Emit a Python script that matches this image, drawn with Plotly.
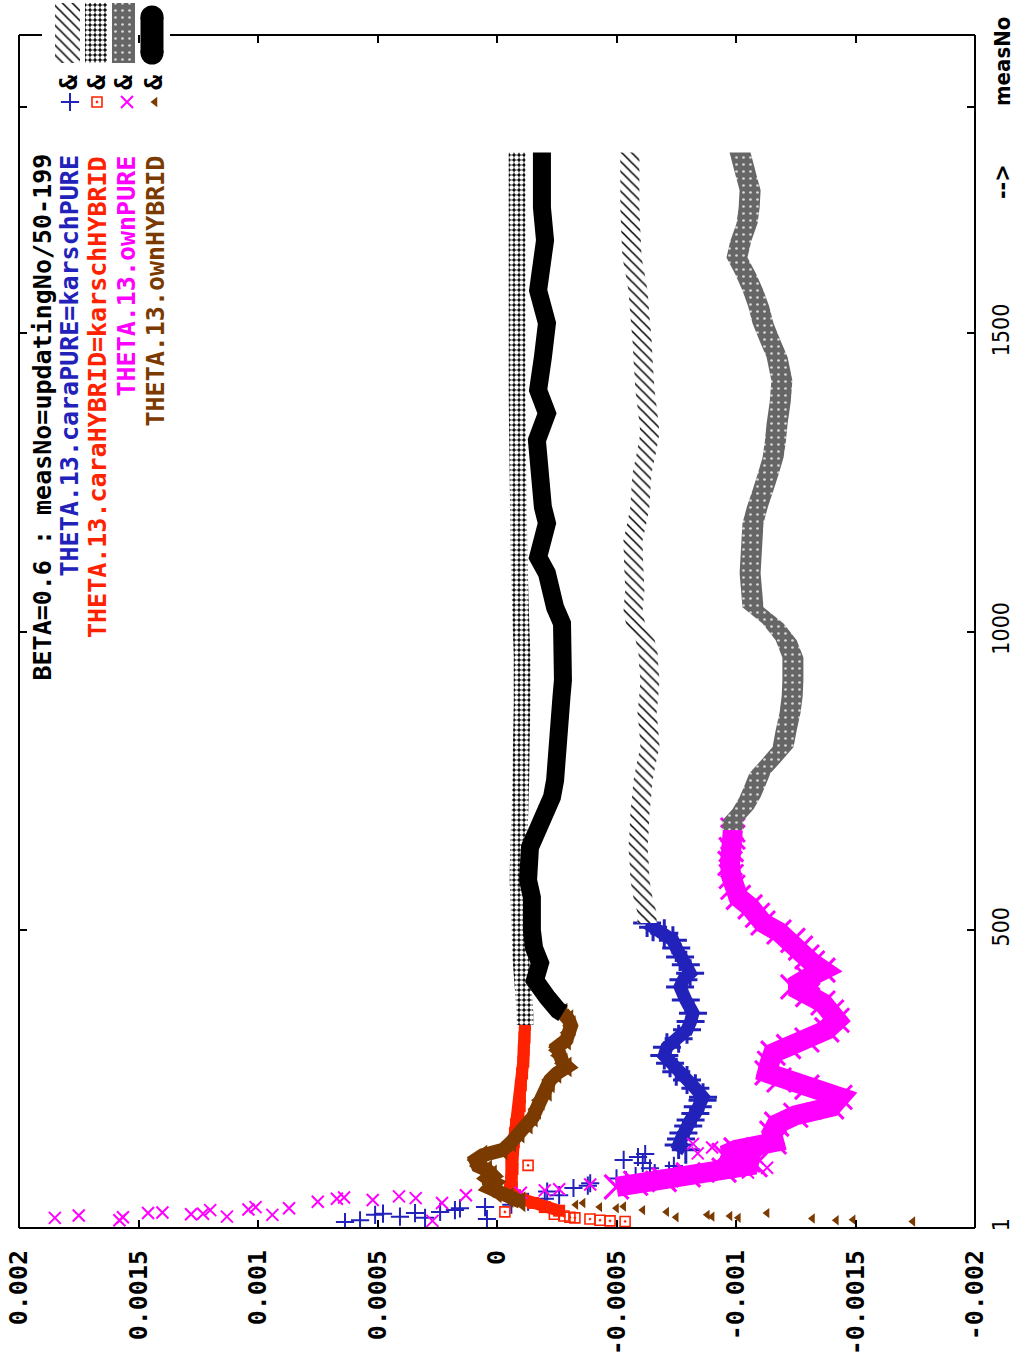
import plotly.graph_objects as go

W, H = 1019, 1358
UNIT = 1e-4  # every value array below is given in units of 1e-4

# ---------------- THETA.13.caraPURE (blue +) ----------------
cara_pure_scatter_m = [11, 14, 16, 18, 20, 23, 25, 26, 28, 31, 34, 36, 40, 45, 50, 56, 62, 68, 72, 76,
                       81, 84, 88, 93, 97, 101, 105, 110, 115, 120, 125]
cara_pure_scatter_v = [6.36, 5.73, 0.42, 3.01, 4.06, 5.10, 4.77, 3.43, 2.38, 1.76, 1.55, 0.50, -0.6, -1.3, -2.0,
                       -2.6, -2.1, -3.2, -3.8, -3.9, -5.4, -5.0, -5.8, -6.6, -7.2, -6.4, -7.4, -6.1, -5.3, -5.9, -6.2]
cara_pure_m = [132, 140, 150, 160, 172, 182, 193, 204, 215, 220, 235, 249, 263, 277, 290, 304, 318, 333, 347, 361,
               383, 405, 417, 428, 442, 455, 470, 483, 495, 505, 512]
cara_pure_v = [-7.9, -7.6, -7.7, -7.8, -8.0, -8.1, -8.3, -8.4, -8.6, -8.62, -8.3, -7.95, -7.5, -7.24, -7.0,
               -7.11, -7.6, -7.95, -8.1, -8.20, -7.9, -7.66, -7.8, -8.08, -7.9, -7.66, -7.5, -7.36, -7.0, -6.53, -6.28]
# continuation ("&", hatched)
cara_pure_late_m = [512, 529, 556, 584, 612, 639, 668, 696, 723, 751, 780, 807, 835, 864, 892, 919, 941, 964, 986,
                    998, 1014, 1031, 1050, 1070, 1110, 1153, 1182, 1209, 1237, 1266, 1300, 1333, 1370, 1405, 1450,
                    1488, 1530, 1572, 1600, 1627, 1670, 1711, 1750, 1803]
cara_pure_late_v = [-6.28, -6.28, -6.10, -5.98, -5.95, -5.90, -5.95, -5.98, -6.05, -6.11, -6.25, -6.40, -6.35, -6.28,
                    -6.35, -6.40, -6.35, -6.32, -6.20, -5.98, -5.80, -5.69, -5.72, -5.77, -5.72, -5.69, -5.85, -5.98,
                    -6.02, -6.07, -6.25, -6.40, -6.30, -6.19, -6.12, -6.07, -5.98, -5.90, -5.78, -5.65, -5.60, -5.56,
                    -5.56, -5.56]

# ---------------- THETA.13.caraHYBRID (red boxed dot) ----------------
cara_hybrid_scatter_m = [12, 13, 14, 16, 18, 19, 21, 24, 28, 70, 106]
cara_hybrid_scatter_v = [-5.36, -4.73, -4.31, -3.89, -3.26, -3.05, -2.8, -2.4, -0.33, -0.63, -1.3]
cara_hybrid_m = [30, 36, 43, 50, 56, 62, 70, 80, 90, 100, 110, 120, 132, 145, 160, 175, 190, 205, 220, 240,
                 260, 280, 300, 320, 341]
cara_hybrid_v = [-2.6, -2.0, -1.5, -1.0, -0.75, -0.6, -0.55, -0.6, -0.6, -0.65, -0.6, -0.62, -0.63, -0.7, -0.75,
                 -0.8, -0.9, -0.95, -0.96, -1.0, -1.05, -1.1, -1.12, -1.15, -1.17]
# continuation ("&", open dots)
cara_hybrid_late_m = [341, 361, 400, 450, 500, 540, 584, 640, 700, 760, 820, 880, 919, 960, 1014, 1070, 1130, 1200,
                      1260, 1320, 1400, 1480, 1560, 1640, 1720, 1803]
cara_hybrid_late_v = [-1.17, -1.17, -1.10, -1.00, -0.96, -0.92, -0.88, -0.90, -0.96, -1.00, -1.02, -1.05, -1.05,
                      -1.05, -1.00, -0.96, -0.92, -0.90, -0.88, -0.86, -0.84, -0.84, -0.84, -0.84, -0.84, -0.84]

# ---------------- THETA.13.ownPURE (magenta x) ----------------
own_pure_scatter_m = [13, 14, 18, 19, 20, 22, 23, 24, 25, 26, 27, 31, 32, 34, 36, 43, 45, 48, 50, 51, 52, 54, 56,
                      60, 64, 66, 74, 86, 94, 102, 112, 118, 126, 136, 142]
own_pure_scatter_v = [2.7, 15.8, 18.5, 15.65, 11.3, 17.5, 9.4, 12.8, 12.3, 14.6, 14.0, 12.0, 10.4, 8.7, 10.1, 2.3,
                      7.5, 5.2, 6.7, 3.4, 6.4, 4.1, 1.3, -1.0, -2.0, -2.6, -3.9, -6.5, -10.5, -11.3, -9.6, -10.9,
                      -8.4, -9.0, -8.2]
own_pure_m = [70, 76, 82, 90, 98, 107, 115, 123, 132, 145, 160, 175, 190, 204, 220, 237, 249, 261, 277, 294, 305,
              316, 333, 349, 363, 378, 392, 405, 420, 433, 445, 455, 470, 483, 497, 512, 525, 539, 555, 572, 590,
              612, 635, 656, 668]
own_pure_v = [-5.0, -5.8, -7.0, -8.0, -9.5, -10.8, -10.5, -9.5, -10.0, -11.6, -11.5, -11.7, -12.5, -14.0, -14.35,
              -12.97, -11.8, -11.30, -11.4, -11.55, -12.2, -12.97, -13.8, -14.23, -14.0, -13.64, -13.0, -12.38,
              -13.0, -13.64, -13.2, -12.97, -12.7, -12.38, -11.8, -11.13, -10.9, -10.59, -10.1, -9.87, -9.8,
              -9.75, -9.8, -9.87, -9.87]
# continuation ("&", grey gravel)
own_pure_late_m = [668, 684, 703, 723, 743, 763, 785, 807, 835, 864, 892, 919, 957, 986, 1014, 1041, 1070, 1098,
                   1140, 1182, 1210, 1237, 1265, 1292, 1320, 1349, 1385, 1421, 1460, 1490, 1517, 1545, 1572, 1600,
                   1627, 1655, 1684, 1711, 1740, 1768, 1803]
own_pure_late_v = [-9.87, -9.87, -10.30, -10.59, -10.80, -11.00, -11.50, -11.97, -12.10, -12.26, -12.35, -12.38,
                   -12.38, -12.10, -11.55, -10.71, -10.65, -10.59, -10.65, -10.71, -10.90, -11.13, -11.35, -11.55,
                   -11.65, -11.72, -11.85, -11.92, -11.72, -11.40, -11.13, -10.95, -10.71, -10.40, -10.04, -10.20,
                   -10.46, -10.55, -10.59, -10.40, -10.17]

# ---------------- THETA.13.ownHYBRID (brown triangle) ----------------
own_hybrid_scatter_m = [12, 14, 15, 17, 18, 19, 20, 21, 23, 26, 28, 31, 34, 36, 37, 40, 43]
own_hybrid_scatter_v = [-17.4, -14.2, -14.9, -13.2, -10.1, -7.5, -9.0, -9.75, -8.8, -11.3, -7.1, -6.1, -5.0, -4.3,
                        -5.3, -3.3, -3.6]
own_hybrid_m = [45, 52, 60, 68, 76, 84, 90, 98, 105, 115, 123, 132, 145, 160, 175, 187, 200, 215, 230, 244, 249,
                260, 271, 277, 290, 299, 304, 316, 328, 340, 350, 361]
own_hybrid_v = [-1.0, -0.5, 0.0, 0.3, 0.1, 0.5, 0.2, 0.4, 0.8, 0.9, 0.6, -0.25, -0.6, -0.96, -1.3, -1.51, -1.65,
                -1.80, -2.1, -2.22, -2.22, -2.5, -2.93, -2.76, -2.6, -2.51, -2.51, -2.9, -3.0, -3.1, -3.0, -2.76]
# continuation ("&", solid black)
own_hybrid_late_m = [361, 366, 388, 416, 445, 470, 500, 530, 555, 584, 612, 639, 668, 696, 723, 751, 780, 807, 835,
                     864, 892, 919, 957, 986, 1014, 1041, 1070, 1098, 1125, 1153, 1182, 1209, 1237, 1266, 1292,
                     1321, 1366, 1405, 1460, 1517, 1572, 1614, 1656, 1711, 1768, 1803]
own_hybrid_late_v = [-2.76, -2.55, -2.09, -1.59, -1.80, -1.55, -1.46, -1.50, -1.46, -1.30, -1.26, -1.38, -1.70,
                     -2.09, -2.30, -2.43, -2.45, -2.51, -2.55, -2.62, -2.70, -2.76, -2.72, -2.66, -2.72, -2.43,
                     -2.25, -2.09, -1.72, -2.00, -2.09, -1.92, -1.88, -1.90, -1.85, -1.67, -2.09, -1.72, -1.92,
                     -2.09, -1.72, -1.95, -2.01, -1.88, -1.80, -1.88]

# axis ticks
value_ticks = [0.002, 0.0015, 0.001, 0.0005, 0, -0.0005, -0.001, -0.0015, -0.002]
value_tick_text = ["0.002", "0.0015", "0.001", "0.0005", "0", "-0.0005", "-0.001", "-0.0015", "-0.002"]
meas_ticks = [1, 500, 1000, 1500, 1880]
meas_tick_text = ["1", "500", "1000", "1500", ""]

key_title = "BETA=0.6 : measNo=updatingNo/50-199"
key_labels = ["THETA.13.caraPURE=karschPURE", "THETA.13.caraHYBRID=karschHYBRID",
              "THETA.13.ownPURE", "THETA.13.ownHYBRID"]

BLUE, RED, MAGENTA, BROWN = "#2222bb", "#ff2200", "#ff00ff", "#7a3a00"
MONO = "DejaVu Sans Mono"
NARROW = "Liberation Sans Narrow, DejaVu Sans Condensed, Liberation Sans, sans-serif"


def scaled(vals):
    return [v * UNIT for v in vals]


def band(m, v, half):
    xs = [(x + half) * UNIT for x in v] + [(x - half) * UNIT for x in reversed(v)]
    ys = list(m) + list(reversed(m))
    return xs, ys


# point styles for isolated points and for the dense stretches
styles = {
    "blue": dict(symbol="cross-thin", size=13, line=dict(width=2, color=BLUE), color=BLUE),
    "red": dict(symbol="square-open-dot", size=10, line=dict(width=1.6, color=RED), color=RED),
    "magenta": dict(symbol="x-thin", size=12, line=dict(width=2, color=MAGENTA), color=MAGENTA),
    "brown": dict(symbol="triangle-left", size=9, color=BROWN, line=dict(width=0)),
}
dense_styles = {
    "blue": dict(symbol="cross-thin", size=20, line=dict(width=3, color=BLUE), color=BLUE),
    "red": dict(symbol="square", size=12, color=RED, line=dict(width=0)),
    "magenta": dict(symbol="x-thin", size=24, line=dict(width=3, color=MAGENTA), color=MAGENTA),
    "brown": dict(symbol="triangle-left", size=18, color=BROWN, line=dict(width=0)),
}

hatch = dict(shape="\\", fgcolor="black", bgcolor="white", size=7, solidity=0.22)
rings = dict(shape=".", fgcolor="white", bgcolor="black", size=5, solidity=0.62)
gravel = dict(shape=".", fgcolor="#d8d8d8", bgcolor="#666666", size=7, solidity=0.12)

fig = go.Figure()

early = [
    (cara_pure_m, cara_pure_v, cara_pure_scatter_m, cara_pure_scatter_v, "blue", BLUE, 13),
    (cara_hybrid_m, cara_hybrid_v, cara_hybrid_scatter_m, cara_hybrid_scatter_v, "red", RED, 12),
    (own_pure_m, own_pure_v, own_pure_scatter_m, own_pure_scatter_v, "magenta", MAGENTA, 20),
    (own_hybrid_m, own_hybrid_v, own_hybrid_scatter_m, own_hybrid_scatter_v, "brown", BROWN, 14),
]
for m, v, sm, sv, key, col, lw in early:
    fig.add_trace(go.Scatter(x=scaled(sv), y=sm, mode="markers", marker=styles[key], hoverinfo="skip"))
    fig.add_trace(go.Scatter(x=scaled(v), y=m, mode="lines+markers", line=dict(color=col, width=lw),
                             marker=dense_styles[key], hoverinfo="skip"))

# continuation series drawn as textured bands
for m, v, half, pat in [
    (cara_pure_late_m, cara_pure_late_v, 0.40, hatch),
    (cara_hybrid_late_m, cara_hybrid_late_v, 0.35, rings),
    (own_pure_late_m, own_pure_late_v, 0.44, gravel),
]:
    bx, by = band(m, v, half)
    fig.add_trace(go.Scatter(x=bx, y=by, mode="none", fill="toself", fillcolor=pat["bgcolor"],
                             fillpattern=pat, hoverinfo="skip"))
fig.add_trace(go.Scatter(x=scaled(own_hybrid_late_v), y=own_hybrid_late_m, mode="lines",
                         line=dict(color="black", width=18), hoverinfo="skip"))

# ---------------- key (pixel-space overlay) ----------------
sample_cols = [(55, 80, hatch), (85, 107, rings), (112, 135, gravel)]
for x0, x1, pat in sample_cols:
    fig.add_trace(go.Scatter(x=[x0, x1, x1, x0, x0], y=[3, 3, 63, 63, 3], xaxis="x2", yaxis="y2",
                             mode="none", fill="toself", fillcolor=pat["bgcolor"], fillpattern=pat,
                             hoverinfo="skip"))
fig.add_trace(go.Scatter(x=[152, 152], y=[17, 53], xaxis="x2", yaxis="y2", mode="lines+markers",
                         line=dict(color="black", width=23),
                         marker=dict(symbol="circle", size=23, color="black"), hoverinfo="skip"))
for (kx, key) in [(70, "blue"), (97, "red"), (127, "magenta"), (155, "brown")]:
    fig.add_trace(go.Scatter(x=[kx], y=[102], xaxis="x2", yaxis="y2", mode="markers",
                             marker=styles[key], cliponaxis=False, hoverinfo="skip"))

annotations = [dict(x=42, y=152, text=key_title, font=dict(color="black"))]
for kx, label, col in zip([69, 97, 126, 155], key_labels, [BLUE, RED, MAGENTA, BROWN]):
    annotations.append(dict(x=kx, y=154, text=label, font=dict(color=col)))
for kx in [68, 96, 123, 153]:
    annotations.append(dict(x=kx, y=72, text="&", font=dict(color="black")))
for a in annotations:
    a.update(xref="x2", yref="y2", xanchor="center", yanchor="top", textangle=-90, showarrow=False)
    a["font"].update(family=MONO, size=25, weight="bold")
annotations.append(dict(x=1002, y=182, text="-->", xref="x2", yref="y2", xanchor="center", yanchor="middle",
                        textangle=-90, showarrow=False,
                        font=dict(family=NARROW, size=23, weight="bold", color="black")))
annotations.append(dict(x=1002, y=62, text="measNo", xref="x2", yref="y2", xanchor="center", yanchor="middle",
                        textangle=-90, showarrow=False,
                        font=dict(family=NARROW, size=22, weight="bold", color="black")))

# plot frame (the top edge stops where the key sits)
frame = [(19, 1228, 975, 1228), (19, 35, 19, 1228), (975, 35, 975, 1228), (19, 35, 42, 35), (170, 35, 975, 35)]
shapes = [dict(type="line", xref="x2", yref="y2", x0=a, y0=b, x1=c, y1=d, line=dict(color="black", width=2),
               layer="above") for a, b, c, d in frame]

fig.update_layout(
    width=W, height=H, template="none", showlegend=False,
    margin=dict(l=0, r=0, t=0, b=0, pad=0),
    paper_bgcolor="white", plot_bgcolor="rgba(0,0,0,0)",
    xaxis=dict(domain=[19 / W, 975 / W], range=[0.002, -0.002], tickvals=value_ticks, ticktext=value_tick_text,
               tickangle=-90, ticks="inside", ticklen=8, tickwidth=2, tickcolor="black", mirror="ticks",
               showline=False, showgrid=False, zeroline=False, automargin=False, ticklabelstandoff=16,
               tickfont=dict(family=MONO, size=25, weight="bold", color="black")),
    yaxis=dict(domain=[(H - 1228) / H, (H - 35) / H], range=[1, 2000], side="right", tickvals=meas_ticks,
               ticktext=meas_tick_text, tickangle=-90, ticks="inside", ticklen=8, tickwidth=2, tickcolor="black",
               mirror="ticks", showline=False, showgrid=False, zeroline=False, automargin=False,
               ticklabelstandoff=10, tickfont=dict(family=NARROW, size=23, color="black")),
    xaxis2=dict(domain=[0, 1], range=[0, W], visible=False, anchor="y2"),
    yaxis2=dict(domain=[0, 1], range=[H, 0], visible=False, anchor="x2"),
    annotations=annotations, shapes=shapes,
)

fig.write_html("out.html")
